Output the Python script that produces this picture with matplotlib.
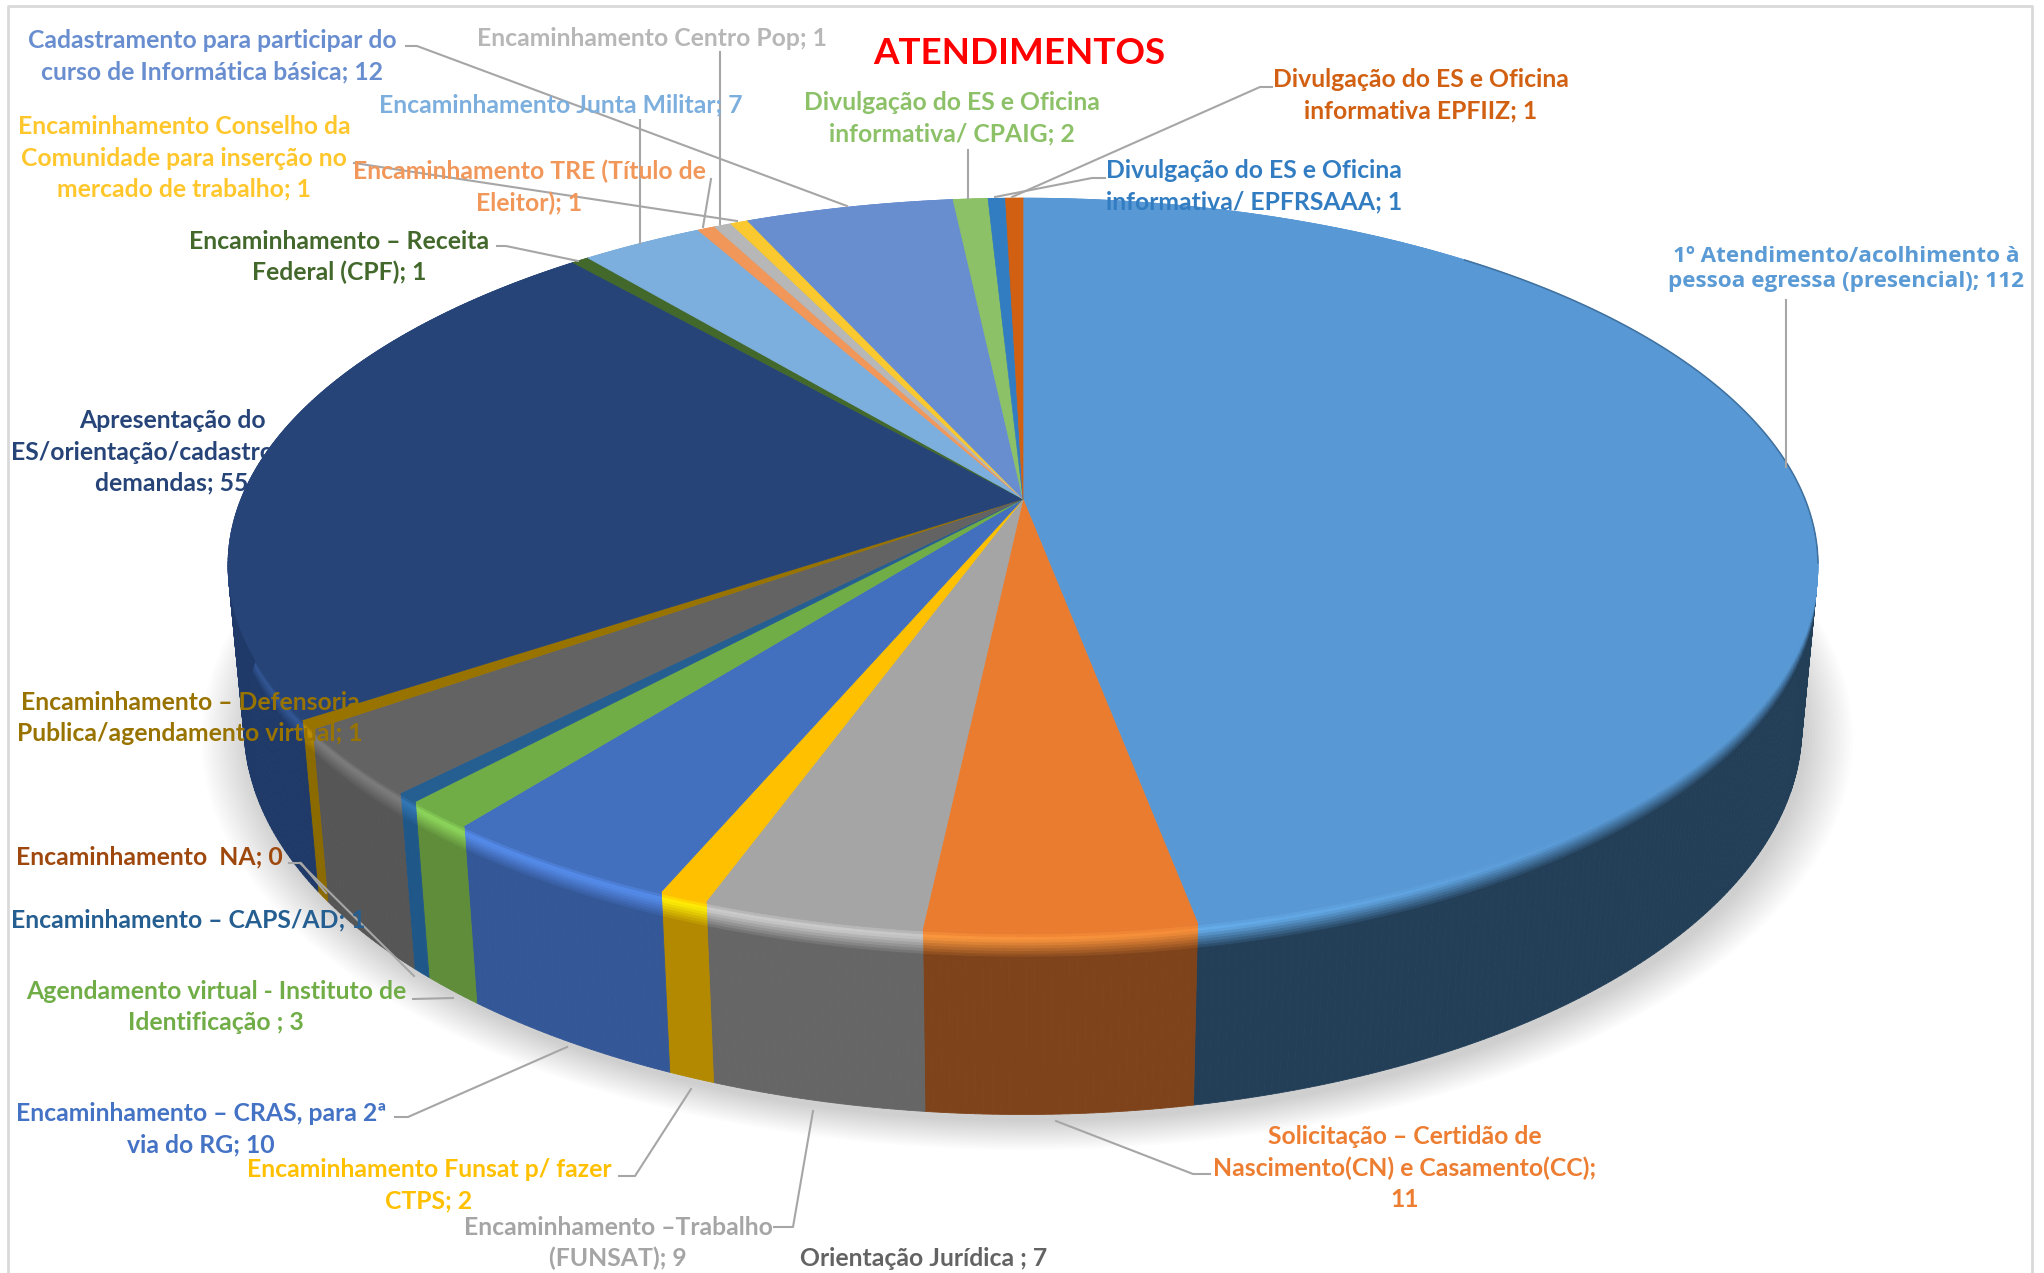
import numpy as np
import matplotlib
matplotlib.use("Agg")
import matplotlib.pyplot as plt
from matplotlib.colors import to_rgb
from matplotlib.collections import PolyCollection
from matplotlib.patches import Polygon

plt.rcParams['font.family'] = ['Lato', 'DejaVu Sans']

# slices, clockwise from the top of the pie
labels = [
    "1º Atendimento/acolhimento à\npessoa egressa (presencial); 112",
    "Solicitação – Certidão de\nNascimento(CN) e Casamento(CC);\n11",
    "Encaminhamento –Trabalho\n(FUNSAT); 9",
    "Encaminhamento Funsat p/ fazer\nCTPS; 2",
    "Encaminhamento – CRAS, para 2ª\nvia do RG; 10",
    "Agendamento virtual - Instituto de\nIdentificação ; 3",
    "Encaminhamento – CAPS/AD; 1",
    "Encaminhamento  NA; 0",
    "Orientação Jurídica ; 7",
    "Encaminhamento – Defensoria\nPublica/agendamento virtual; 1",
    "Apresentação do\nES/orientação/cadastro e em\ndemandas; 55",
    "Encaminhamento – Receita\nFederal (CPF); 1",
    "Encaminhamento Junta Militar; 7",
    "Encaminhamento TRE (Título de\nEleitor); 1",
    "Encaminhamento Centro Pop; 1",
    "Encaminhamento Conselho da\nComunidade para inserção no\nmercado de trabalho; 1",
    "Cadastramento para participar do\ncurso de Informática básica; 12",
    "Divulgação do ES e Oficina\ninformativa/ CPAIG; 2",
    "Divulgação do ES e Oficina\ninformativa/ EPFRSAAA; 1",
    "Divulgação do ES e Oficina\ninformativa EPFIIZ; 1",
]
values = [112, 11, 9, 2, 10, 3, 1, 0, 7, 1, 55, 1, 7, 1, 1, 1, 12, 2, 1, 1]

top_colors = ['#5898d4', '#ea7c30', '#a5a5a5', '#ffc000', '#4270bf', '#70ad47', '#255e91', '#9e480e',
              '#636363', '#997300', '#264478', '#43682b', '#7cafdd', '#f1975a', '#b7b7b7', '#f9c92f',
              '#698ed0', '#8cc168', '#327dc2', '#d26012']
side_colors = ['#233f58', '#7e431b', '#666666', '#b28900', '#345797', '#5f8d3a', '#1f5788', '#6f340a',
               '#565656', '#8b6a00', '#1f3a68', '#32501f', '#5a83a8', '#b06c40', '#888888', '#b89522',
               '#4e6a9c', '#68904e', '#255d90', '#9c480e']
text_colors = ['#5b9bd5', '#ed7d31', '#a5a5a5', '#ffc000', '#4472c4', '#70ad47', '#255e91', '#9e480e',
               '#636363', '#997300', '#264478', '#43682b', '#7cafdd', '#f1975a', '#b7b7b7', '#ffc72c',
               '#698ed0', '#8cc168', '#327dc2', '#d26012']
label_xy = [(1846, 269), (1405, 1168), (618, 1243), (429, 1185), (201, 1129), (216, 1007), (188, 920),
            (149, 857), (924, 1259), (190, 718), (172, 452), (339, 257), (561, 105), (529, 187),
            (652, 38), (184, 158), (212, 56), (952, 118), (1254, 186), (1421, 95)]

leaders = [
    [(1786, 300), (1786, 467)],
    [(1056, 1121), (1193, 1174), (1210, 1174)],
    [(774, 1227), (793, 1227), (813, 1111)],
    [(619, 1176), (635, 1176), (691, 1089)],
    [(395, 1117), (408, 1117), (567, 1047)],
    [(413, 999), (453, 998)],
    [(289, 863), (301, 863), (326, 893)],
    [(300, 863), (414, 976)],
    [(497, 246), (506, 246), (578, 261)],
    [(354, 163), (737, 221)],
    [(711, 179), (703, 227)],
    [(720, 52), (720, 224)],
    [(640, 120), (640, 243)],
    [(406, 46), (417, 46), (847, 206)],
    [(968, 150), (968, 198)],
    [(1272, 87), (1260, 87), (1012, 197)],
    [(1105, 178), (1092, 178), (995, 197)],
]

# pie geometry in image pixels, perspective view
cx, cy = 1023, 499
a, b, k = 782, 355, 0.18
depth, m = 162, 0.02


def project(t, z=0.0):
    w = 1 + k * np.cos(t) + m * z
    return cx + a * np.sin(t) / w, cy + (-b * np.cos(t) + depth * z) / w


def blend(c1, c2, f):
    return tuple((1 - f) * np.array(to_rgb(c1)) + f * np.array(to_rgb(c2)))


def lighter(c):
    return tuple(np.minimum(1, np.array(to_rgb(c)) * 1.22 + 0.02))


fig = plt.figure(figsize=(20.44, 12.73), dpi=100)
ax = fig.add_axes([0, 0, 1, 1])
ax.set_xlim(0, 2044)
ax.set_ylim(1273, 0)
ax.axis('off')

# frame of the chart area
ax.plot([8, 8, 2032, 2032], [1273, 6, 6, 1273], color='#d9d9d9', lw=2, zorder=1)

# soft shadow under the pie
tt = np.linspace(0, 2 * np.pi, 360)
bx, by = project(tt, 1.0)
for i in range(16):
    s = 1 + i * 0.004
    ax.fill(1021 + (bx - 1021) * s + 4, 640 + (by - 640) * s + 7, color='black', alpha=0.012, lw=0, zorder=2)

edges = np.radians(np.cumsum([0] + values) / sum(values) * 360)
rows = np.linspace(0, 0.15, 11)

polys, cols = [], []
for i in range(len(values)):
    if values[i] == 0:
        continue
    n = max(3, int(np.degrees(edges[i + 1] - edges[i]) * 2))
    ts = np.linspace(edges[i], edges[i + 1], n)
    for t0, t1 in zip(ts[:-1], ts[1:]):
        # highlight on the rounded edge, strongest on the front left
        h = np.interp(np.degrees(t0), [140, 190, 240, 300], [0, 1, 1, 0.3])
        peak = blend(top_colors[i], lighter(top_colors[i]), h)
        for j in range(len(rows) - 1):
            x0, y0 = project(t0, rows[j])
            x1, y1 = project(t1, rows[j])
            x2, y2 = project(t1, rows[j + 1])
            x3, y3 = project(t0, rows[j + 1])
            polys.append([(x0, y0), (x1, y1), (x2, y2), (x3, y3)])
            f = j / (len(rows) - 2)
            if f < 0.25:
                cols.append(blend(top_colors[i], peak, f / 0.25))
            else:
                cols.append(blend(peak, side_colors[i], (f - 0.25) / 0.75))
        x0, y0 = project(t0, rows[-1])
        x1, y1 = project(t1, rows[-1])
        x2, y2 = project(t1, 1.0)
        x3, y3 = project(t0, 1.0)
        polys.append([(x0, y0), (x1, y1), (x2, y2), (x3, y3)])
        cols.append(to_rgb(side_colors[i]))
ax.add_collection(PolyCollection(polys, facecolors=cols, edgecolors=cols, linewidths=0.6, zorder=3))

# top face
for i in range(len(values)):
    if values[i] == 0:
        continue
    n = max(3, int(np.degrees(edges[i + 1] - edges[i]) * 2))
    ts = np.linspace(edges[i], edges[i + 1], n)
    xs, ys = project(ts)
    pts = np.column_stack([np.r_[cx, xs], np.r_[cy, ys]])
    ax.add_patch(Polygon(pts, closed=True, facecolor=top_colors[i], edgecolor=top_colors[i], lw=0.5, zorder=4))

# dark line on the back right rim
rim_t = np.radians(np.linspace(40, 100, 120))
ax.plot(*project(rim_t), color='#2f5a80', lw=1.2, alpha=0.6, zorder=5)

for pts in leaders:
    xs = [p[0] for p in pts]
    ys = [p[1] for p in pts]
    ax.plot(xs, ys, color='#a6a6a6', lw=1.5, zorder=6, solid_joinstyle='round')

for i in range(len(labels)):
    fam = ['Open Sans', 'DejaVu Sans'] if i == 0 else ['Lato', 'DejaVu Sans']
    size = 16.2 if i == 0 else 17.8
    ax.text(label_xy[i][0], label_xy[i][1], labels[i], color=text_colors[i], ha='center', va='center',
            fontsize=size, fontweight='bold', family=fam, linespacing=1.43 if i else 1.2, zorder=7)

ax.text(1019, 54, "ATENDIMENTOS", color='#ff0000', ha='center', va='center', fontsize=26.5,
        fontweight='bold', zorder=7)

fig.savefig('out.png', dpi=100)
